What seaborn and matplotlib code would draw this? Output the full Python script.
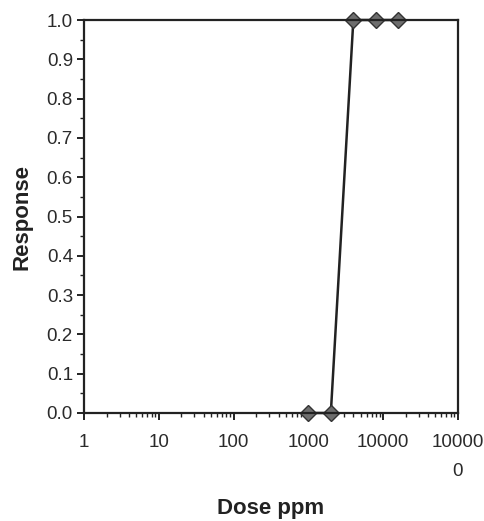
import matplotlib
matplotlib.use("Agg")
import matplotlib.pyplot as plt
import seaborn as sns
import pandas as pd
from matplotlib.ticker import LogLocator, MultipleLocator, FixedLocator, NullFormatter

# dose-response data
dose = [1000, 2000, 4000, 8000, 16000]
response = [0.0, 0.0, 1.0, 1.0, 1.0]
x_ticks = [1, 10, 100, 1000, 10000, 100000]
x_labels = ["1", "10", "100", "1000", "10000", "10000\n0"]

sns.set_theme(style="white")
plt.rcParams["font.family"] = ["Liberation Sans", "DejaVu Sans"]

df = pd.DataFrame({"dose": dose, "response": response})

fig = plt.figure(figsize=(4.84, 5.21), dpi=100)
ax = fig.add_axes([0.1736, 0.2073, 0.7724, 0.7543])
sns.lineplot(data=df, x="dose", y="response", ax=ax, color="#222222", linewidth=1.8,
             marker="D", markersize=8.5, markerfacecolor="#6e6e6e",
             markeredgecolor="#333333", markeredgewidth=1.0, clip_on=False)

ax.set_xscale("log")
ax.set_xlim(1, 100000)
ax.set_ylim(0, 1.0)
ax.xaxis.set_major_locator(FixedLocator(x_ticks))
ax.set_xticklabels(x_labels, linespacing=1.9)
ax.xaxis.set_minor_locator(LogLocator(base=10, subs=range(2, 10)))
ax.xaxis.set_minor_formatter(NullFormatter())
ax.yaxis.set_major_locator(MultipleLocator(0.1))
ax.yaxis.set_minor_locator(MultipleLocator(0.05))
ax.set_yticklabels([f"{v:.1f}" for v in ax.get_yticks()])

for s in ax.spines.values():
    s.set_color("#222222")
    s.set_linewidth(1.6)

ax.tick_params(axis="both", which="major", direction="out", length=5, width=1.4,
               color="#222222", labelsize=13.5, labelcolor="#2a2a2a", bottom=True, left=True)
ax.tick_params(axis="both", which="minor", direction="out", length=3, width=1.0,
               color="#222222", bottom=True, left=True)
ax.tick_params(axis="x", which="major", pad=10)
ax.tick_params(axis="y", which="major", pad=3)

ax.set_xlabel("Dose ppm", fontsize=16, fontweight="bold", color="#222222", labelpad=13)
ax.set_ylabel("Response", fontsize=16, fontweight="bold", color="#222222", labelpad=10)
ax.grid(False)

fig.savefig("out.png", dpi=100)
plt.close(fig)
